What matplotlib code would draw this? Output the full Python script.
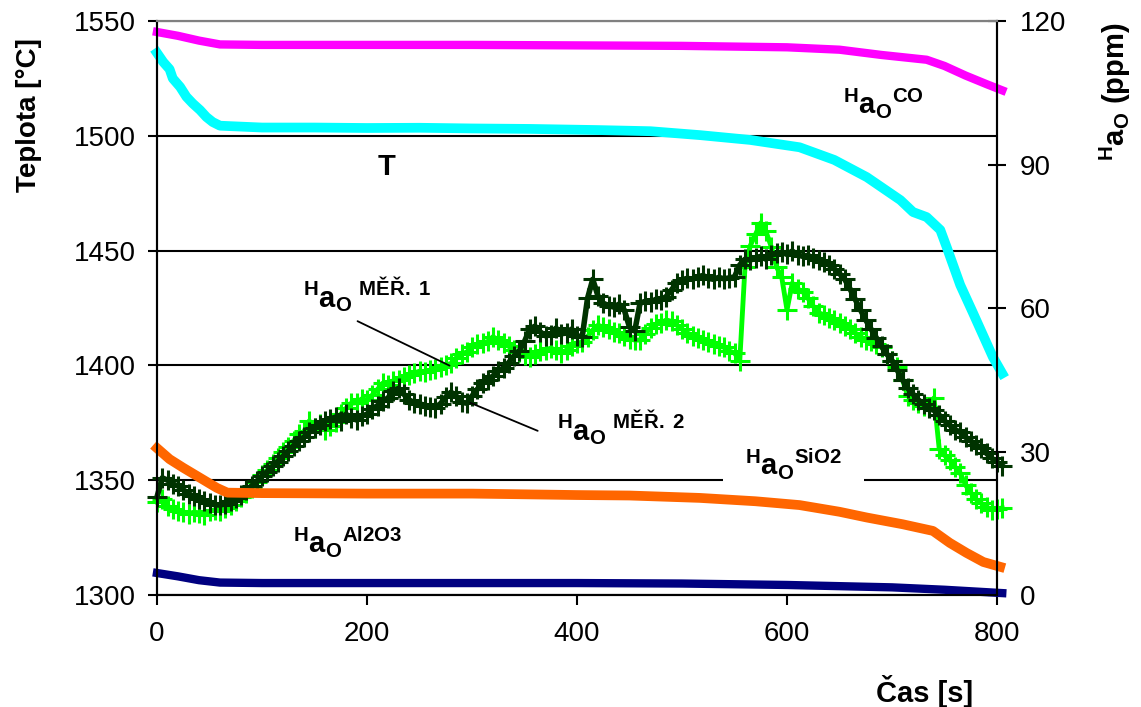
import matplotlib
matplotlib.use("Agg")
import matplotlib.pyplot as plt
import numpy as np

plt.rcParams["font.family"] = ["Liberation Sans", "DejaVu Sans"]
plt.rcParams["mathtext.fontset"] = "custom"
plt.rcParams["mathtext.rm"] = "Liberation Sans"
plt.rcParams["mathtext.bf"] = "Liberation Sans:bold"
plt.rcParams["mathtext.it"] = "Liberation Sans:italic"

# temperature T [degC], left axis
t_temp = [0, 6, 12, 15, 22, 28, 34, 41, 47, 53, 60, 80, 100, 150, 200, 250,
          300, 355, 420, 470, 517, 565, 612, 645, 676, 708, 720, 733, 746,
          752, 765, 777, 796, 805]
temp = [1536.1, 1532.1, 1529.0, 1525.0, 1521.3, 1517.0, 1514.1, 1511.2,
        1508.2, 1506.0, 1504.4, 1504.0, 1503.6, 1503.6, 1503.4, 1503.5,
        1503.2, 1503.0, 1502.5, 1502.0, 1500.3, 1498.2, 1495.0, 1489.5,
        1482.0, 1472.0, 1466.8, 1464.6, 1459.0, 1451.6, 1435.0, 1423.0,
        1403.7, 1396.5]

# oxygen activity [ppm], right axis
t_co = [0, 20, 40, 60, 100, 300, 500, 600, 650, 690, 733, 750, 770, 790, 805]
a_co = [117.7, 116.9, 115.9, 115.1, 115.0, 115.0, 114.8, 114.5, 114.0,
        112.9, 111.9, 110.6, 108.6, 106.8, 105.5]

t_sio2 = [0, 12, 25, 41, 57, 67, 100, 200, 300, 400, 450, 517, 570, 612,
          650, 676, 710, 739, 755, 771, 787, 803]
a_sio2 = [30.7, 28.4, 26.6, 24.5, 22.4, 21.4, 21.3, 21.2, 21.2, 20.9, 20.8,
          20.3, 19.6, 18.8, 17.4, 16.2, 14.8, 13.4, 10.9, 8.8, 6.9, 5.9]

t_al2o3 = [0, 20, 40, 60, 100, 200, 300, 400, 500, 600, 700, 750, 805]
a_al2o3 = [4.6, 3.9, 3.1, 2.6, 2.5, 2.5, 2.5, 2.5, 2.4, 2.1, 1.6, 1.1, 0.4]

# measured values, one reading every 5 s
mer1 = [19.5, 20.0, 18.6, 18.0, 17.6, 17.4, 17.0, 17.3, 17.2, 16.8,
        17.5, 17.8, 17.6, 18.2, 18.8, 19.6, 20.4, 21.4, 22.4, 23.6,
        25.0, 26.1, 27.4, 28.6, 29.9, 31.0, 32.2, 33.6, 34.2, 36.4,
        35.0, 35.8, 34.6, 35.4, 36.2, 37.8, 39.0, 40.1, 40.2, 41.0,
        40.8, 41.8, 43.0, 44.3, 44.0, 44.8, 45.0, 45.6, 46.0, 46.4,
        46.8, 46.6, 47.0, 47.2, 47.6, 48.1, 48.4, 49.6, 50.4, 50.8,
        51.8, 52.4, 52.7, 53.0, 54.0, 53.3, 52.6, 52.0, 51.2, 50.8,
        50.2, 49.8, 50.4, 51.0, 51.2, 51.6, 51.2, 50.6, 51.2, 52.0,
        52.6, 52.9, 54.0, 55.4, 56.4, 56.0, 55.6, 55.0, 54.8, 54.2,
        53.6, 53.3, 53.3, 54.6, 55.8, 56.6, 56.9, 57.5, 57.2, 56.4,
        55.6, 54.8, 54.2, 53.8, 53.3, 52.8, 52.4, 52.0, 51.8, 51.0,
        50.6, 49.0, 68.6, 73.0, 75.4, 77.8, 76.0, 72.8, 68.6, 66.4,
        59.6, 65.2, 64.0, 63.4, 62.0, 60.4, 59.0, 58.6, 58.0, 57.4,
        56.9, 56.2, 55.6, 54.8, 54.0, 53.3, 53.0, 52.4, 51.8, 50.4,
        49.0, 47.7, 45.0, 41.6, 40.8, 40.2, 39.6, 39.3, 41.2, 30.5,
        29.2, 28.2, 26.8, 25.5, 23.0, 21.4, 20.0, 19.2, 18.4, 17.8,
        18.0, 18.2]
mer2 = [20.5, 24.5, 24.0, 23.2, 22.8, 22.0, 21.2, 20.6, 20.0, 19.6,
        19.2, 18.9, 18.8, 19.1, 19.6, 20.3, 21.0, 21.9, 22.8, 23.8,
        24.9, 25.8, 26.9, 27.9, 29.0, 30.1, 31.2, 32.3, 33.0, 34.0,
        35.0, 35.6, 36.4, 36.8, 37.2, 36.4, 37.8, 37.0, 36.6, 37.4,
        37.8, 38.9, 39.6, 40.5, 41.2, 42.6, 43.2, 42.0, 40.8, 40.2,
        40.0, 39.6, 39.4, 39.2, 40.0, 41.4, 42.4, 41.6, 40.3, 40.1,
        41.6, 43.0, 44.3, 45.0, 45.8, 46.8, 47.5, 48.6, 50.0, 51.0,
        53.0, 55.6, 56.2, 55.0, 54.2, 54.4, 55.8, 54.6, 54.8, 55.6,
        54.2, 54.0, 62.0, 66.0, 62.5, 61.0, 60.5, 60.2, 60.8, 59.6,
        56.0, 55.2, 61.0, 61.4, 61.2, 61.8, 61.7, 62.4, 63.8, 65.2,
        65.9, 66.2, 66.0, 66.5, 66.8, 66.2, 66.0, 66.4, 66.1, 66.3,
        66.5, 69.0, 70.2, 70.0, 70.5, 70.8, 70.2, 71.0, 71.4, 71.7,
        71.2, 71.9, 71.1, 70.8, 71.0, 70.4, 70.0, 69.6, 69.0, 68.2,
        67.2, 66.0, 64.0, 61.8, 59.6, 57.5, 55.6, 53.8, 52.0, 50.4,
        49.0, 47.0, 45.0, 43.2, 42.0, 40.8, 39.9, 39.0, 38.6, 37.6,
        36.4, 35.5, 34.6, 34.0, 33.0, 32.2, 31.4, 30.8, 29.6, 28.6,
        27.8, 27.0]
t_mer1 = np.arange(len(mer1)) * 5
t_mer2 = np.arange(len(mer2)) * 5

HAO = r"{}^{\mathbf{H}}\mathbf{a}_{\mathbf{O}}"

fig = plt.figure(figsize=(11.41, 7.07), dpi=100)
ax = fig.add_axes([0.1376, 0.1584, 0.7362, 0.8119])
ax2 = ax.twinx()

ax.plot(t_temp, temp, color="#00ffff", lw=7, clip_on=False, zorder=3)

ax2.plot(t_mer1, mer1, color="#00ff00", lw=3.5, marker="+", ms=14,
         mew=2.2, clip_on=False)
ax2.plot(t_mer2, mer2, color="#003300", lw=4, marker="+", ms=14,
         mew=2.2, clip_on=False)
ax2.plot(t_co, a_co, color="#ff00ff", lw=6, clip_on=False)
ax2.plot(t_sio2, a_sio2, color="#ff6600", lw=7, clip_on=False)
ax2.plot(t_al2o3, a_al2o3, color="#000080", lw=6, clip_on=False)

ax.set_xlim(0, 800)
ax.set_ylim(1300, 1550)
ax2.set_ylim(0, 120)
ax.set_xticks([0, 200, 400, 600, 800])
ax.set_yticks([1300, 1350, 1400, 1450, 1500, 1550])
ax2.set_yticks([0, 30, 60, 90, 120])
ax.grid(axis="y", color="black", lw=1.5)

for a in (ax, ax2):
    a.spines["top"].set_color("#808080")
    a.spines["top"].set_linewidth(1.5)
    for s in ("left", "right", "bottom"):
        a.spines[s].set_linewidth(1.5)

ax.tick_params(axis="y", direction="out", length=6.5, width=1.5,
               labelsize=20, pad=9)
ax.tick_params(axis="x", direction="out", length=7, width=1.5,
               labelsize=20, pad=12)
ax2.tick_params(axis="y", direction="inout", length=13, width=1.5,
                labelsize=20, pad=10)

ax.set_ylabel("Teplota [°C]", fontsize=20, fontweight="bold")
ax.yaxis.set_label_coords(-0.137, 0.836)
ax.set_xlabel("Čas [s]", fontsize=21, fontweight="bold")
ax.xaxis.set_label_coords(0.914, -0.139)
ax2.set_ylabel("$" + HAO + "$ (ppm)", fontsize=21, fontweight="bold",
               rotation=90)
ax2.yaxis.set_label_coords(1.12, 0.876)

# curve labels
ax.text(210, 1482.9, "T", fontsize=21, fontweight="bold")
ax.text(560, 1352.3, "$" + HAO + r"{}^{\mathbf{SiO2}}$", fontsize=21,
        zorder=3, bbox=dict(facecolor="white", edgecolor="none",
                            boxstyle="square,pad=0.75"))
ax2.text(653, 100.8, "$" + HAO + r"{}^{\mathbf{CO}}$", fontsize=21)
ax2.text(129.5, 8.8, "$" + HAO + r"{}^{\mathbf{Al2O3}}$", fontsize=21)
ax2.text(139, 60.2, "$" + HAO + r"\;{}^{\mathbf{MĚŘ.\ 1}}$", fontsize=21)
ax2.text(381, 32.4, "$" + HAO + r"\;{}^{\mathbf{MĚŘ.\ 2}}$", fontsize=21)
ax2.annotate("", xy=(281, 47.7), xytext=(188.6, 57.5),
             arrowprops=dict(arrowstyle="-", color="black", lw=1.3))
ax2.annotate("", xy=(296, 40.4), xytext=(365, 34.1),
             arrowprops=dict(arrowstyle="-", color="black", lw=1.3))

fig.savefig("out.png", dpi=100)
